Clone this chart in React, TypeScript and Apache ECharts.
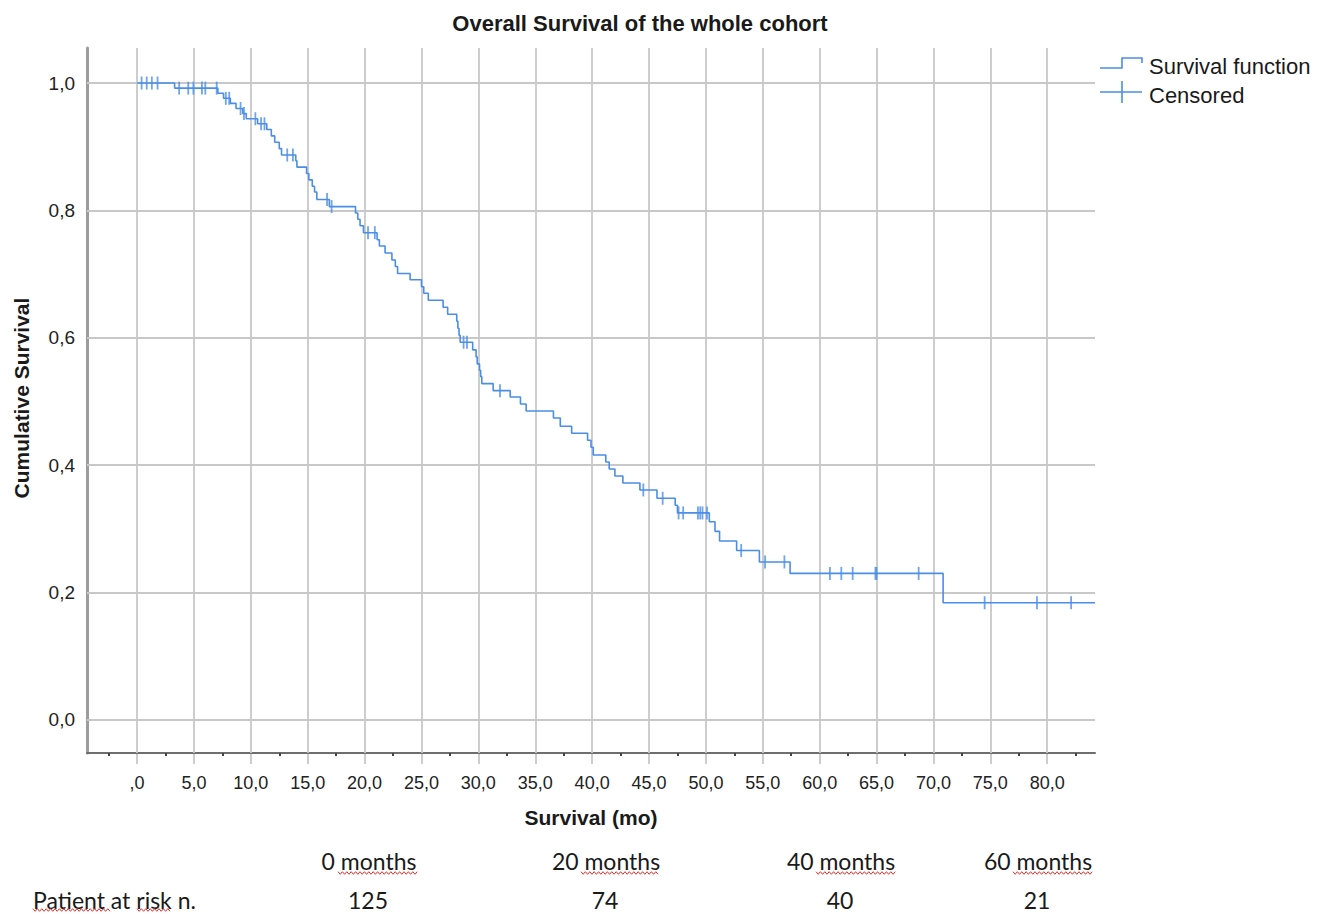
import React, { useEffect, useRef } from "react";
import * as echarts from "echarts";

// ---------- data ----------
const eventTimes = [
  3.3, 7.1, 7.6, 8.2, 8.7, 9.3, 9.6, 10.6, 11.4, 11.8, 12.1, 12.5, 12.7, 13.95, 14.05, 14.9, 15.1, 15.4, 15.6, 15.8,
  16.9, 19.2, 19.4, 19.6, 19.9, 21.1, 21.3, 21.8, 22.4, 22.7, 22.9, 24.0, 25.0, 25.2, 25.6, 26.9, 27.3, 28.1, 28.2,
  28.3, 28.4, 29.5, 29.8, 29.9, 30.1, 30.2, 30.3, 31.3, 32.8, 33.7, 34.2, 36.6, 37.2, 38.2, 39.6, 39.9, 40.1, 41.2,
  41.5, 42.0, 42.7, 44.2, 45.7, 47.3, 47.5, 50.3, 50.8, 51.2, 52.7, 54.7, 57.4, 70.85,
];
const survivalAfter = [
  0.992, 0.984, 0.976, 0.968, 0.96, 0.952, 0.944, 0.936, 0.927, 0.917, 0.907, 0.897, 0.887, 0.878, 0.868, 0.858,
  0.848, 0.838, 0.829, 0.817, 0.806, 0.796, 0.786, 0.776, 0.765, 0.754, 0.744, 0.733, 0.722, 0.712, 0.701, 0.691,
  0.68, 0.67, 0.659, 0.648, 0.637, 0.626, 0.615, 0.604, 0.593, 0.581, 0.57, 0.559, 0.549, 0.539, 0.528, 0.517,
  0.507, 0.496, 0.485, 0.474, 0.461, 0.45, 0.439, 0.428, 0.416, 0.405, 0.394, 0.383, 0.372, 0.361, 0.348, 0.337,
  0.325, 0.311, 0.296, 0.281, 0.266, 0.248, 0.23, 0.184,
];
const censorTimes = [
  0.4, 0.85, 1.3, 1.8, 3.7, 4.5, 4.95, 5.7, 6.0, 7.0, 7.8, 8.1, 9.1, 9.4, 10.4, 10.9, 11.2, 13.2, 13.7, 16.7, 17.1,
  20.3, 20.9, 28.7, 29.0, 31.9, 44.5, 46.2, 47.6, 48.0, 49.3, 49.5, 49.7, 50.1, 53.1, 55.2, 56.9, 60.9, 61.9, 62.9,
  64.9, 65.0, 68.7, 74.5, 79.1, 82.1,
];
const lastFollowUp = 84.2;

const xTicks = [0, 5, 10, 15, 20, 25, 30, 35, 40, 45, 50, 55, 60, 65, 70, 75, 80];
const xMinorTicks = [-2.5, 2.5, 7.5, 12.5, 17.5, 22.5, 27.5, 32.5, 37.5, 42.5, 47.5, 52.5, 57.5, 62.5, 67.5, 72.5, 77.5, 82.5];
const yTicks = [0, 0.2, 0.4, 0.6, 0.8, 1.0];

const riskMonths = ["0 months", "20 months", "40 months", "60 months"];
const riskCounts = ["125", "74", "40", "21"];

// ---------- style constants ----------
const X_MIN = -4.4;
const X_MAX = 84.2;
const Y_MIN = -0.052;
const Y_MAX = 1.055;
const BLUE = "#4a8ee6";
const GRID = "#c8c8c8";
const ARIAL = "'Liberation Sans', Arial, sans-serif";
const CAL = "Lato, 'Open Sans', sans-serif";

function survivalAt(t: number): number {
  let s = 1;
  for (let i = 0; i < eventTimes.length; i++) {
    if (eventTimes[i] <= t) s = survivalAfter[i];
  }
  return s;
}

function squiggle(x0: number, x1: number, y: number) {
  const pts: number[][] = [];
  let up = true;
  for (let x = x0; x <= x1; x += 2.2) {
    pts.push([x, up ? y - 1.3 : y + 1.3]);
    up = !up;
  }
  return {
    type: "polyline",
    shape: { points: pts },
    style: { stroke: "#e0302c", lineWidth: 1, fill: "none" },
    silent: true,
  };
}

const commaFmt = (v: number) => (v === 0 ? "0,0" : v.toFixed(1).replace(".", ","));
const xFmt = (v: number) => (Math.abs(v) < 1e-9 ? ",0" : v.toFixed(1).replace(".", ","));

export default function App() {
  const ref = useRef<HTMLDivElement>(null);

  useEffect(() => {
    if (!ref.current) return;
    const chart = echarts.init(ref.current, undefined, { renderer: "svg" });

    const kmData: number[][] = [[0, 1]];
    eventTimes.forEach((t, i) => kmData.push([t, survivalAfter[i]]));
    kmData.push([lastFollowUp, survivalAfter[survivalAfter.length - 1]]);

    const censorData = censorTimes.map((t) => [t, survivalAt(t)]);

    const monthCenters = [369, 606, 841, 1038];
    const monthWordStart = [338, 581, 816, 1013];
    const monthWordEnd = [418, 660, 896, 1093];

    const graphics: any[] = [
      {
        type: "text",
        x: 21,
        y: 398,
        rotation: Math.PI / 2,
        style: {
          text: "Cumulative Survival",
          font: `bold 21px ${ARIAL}`,
          fill: "#1a1a1a",
          textAlign: "center",
          textVerticalAlign: "middle",
        },
      },
      {
        type: "text",
        x: 591,
        y: 817,
        style: {
          text: "Survival (mo)",
          font: `bold 21px ${ARIAL}`,
          fill: "#1a1a1a",
          textAlign: "center",
          textVerticalAlign: "middle",
        },
      },
      {
        type: "polyline",
        shape: { points: [[1100, 68], [1122, 68], [1122, 58], [1142, 58], [1142, 63]] },
        style: { stroke: BLUE, lineWidth: 1.6, fill: "none" },
      },
      { type: "line", shape: { x1: 1100, y1: 92, x2: 1142, y2: 92 }, style: { stroke: BLUE, lineWidth: 1.6 } },
      { type: "line", shape: { x1: 1122, y1: 81, x2: 1122, y2: 103 }, style: { stroke: BLUE, lineWidth: 1.6 } },
      {
        type: "text",
        x: 1149,
        y: 66,
        style: { text: "Survival function", font: `22px ${ARIAL}`, fill: "#1a1a1a", textVerticalAlign: "middle" },
      },
      {
        type: "text",
        x: 1149,
        y: 95,
        style: { text: "Censored", font: `22px ${ARIAL}`, fill: "#1a1a1a", textVerticalAlign: "middle" },
      },
      {
        type: "text",
        x: 33,
        y: 900,
        style: { text: "Patient at risk n.", font: `23px ${CAL}`, fill: "#1a1a1a", textVerticalAlign: "middle" },
      },
      squiggle(33, 112, 910),
      squiggle(137, 172, 910),
    ];
    riskMonths.forEach((m, i) => {
      graphics.push({
        type: "text",
        x: monthCenters[i],
        y: 861,
        style: { text: m, font: `23px ${CAL}`, fill: "#1a1a1a", textAlign: "center", textVerticalAlign: "middle" },
      });
      graphics.push(squiggle(monthWordStart[i], monthWordEnd[i], 873));
    });
    riskCounts.forEach((c, i) => {
      graphics.push({
        type: "text",
        x: monthCenters[i] - 1,
        y: 900,
        style: { text: c, font: `23px ${CAL}`, fill: "#1a1a1a", textAlign: "center", textVerticalAlign: "middle" },
      });
    });

    const option: any = {
      animation: false,
      backgroundColor: "#ffffff",
      title: {
        text: "Overall Survival of the whole cohort",
        left: 635,
        top: 7,
        textAlign: "center",
        textStyle: { fontFamily: ARIAL, fontSize: 22, fontWeight: "bold", color: "#1a1a1a" },
      },
      grid: { left: 87, right: 231, top: 48, bottom: 161, containLabel: false },
      xAxis: [
        {
          type: "value",
          min: X_MIN,
          max: X_MAX,
          z: 3,
          axisLine: { show: true, onZero: false, lineStyle: { color: "#6e6e6e", width: 2 } },
          axisTick: { show: false },
          axisLabel: {
            show: true,
            customValues: xTicks,
            formatter: xFmt,
            margin: 21,
            fontSize: 18,
            fontFamily: ARIAL,
            color: "#222",
          },
          splitLine: { show: false },
        },
        {
          type: "value",
          min: X_MIN,
          max: X_MAX,
          position: "bottom",
          z: 2,
          axisLine: { show: false, onZero: false },
          axisTick: { show: true, customValues: xTicks, length: 11, lineStyle: { color: GRID, width: 1.8 } },
          axisLabel: { show: false },
          splitLine: { show: false },
        },
        {
          type: "value",
          min: X_MIN,
          max: X_MAX,
          position: "bottom",
          z: 4,
          axisLine: { show: false, onZero: false },
          axisTick: { show: true, customValues: xMinorTicks, length: 3, lineStyle: { color: "#444", width: 2 } },
          axisLabel: { show: false },
          splitLine: { show: false },
        },
      ],
      yAxis: {
        type: "value",
        min: Y_MIN,
        max: Y_MAX,
        z: 3,
        axisLine: { show: true, onZero: false, lineStyle: { color: "#9c9c9c", width: 3 } },
        axisTick: { show: false },
        axisLabel: {
          show: true,
          customValues: yTicks,
          formatter: commaFmt,
          margin: 12,
          fontSize: 19,
          fontFamily: ARIAL,
          color: "#222",
        },
        splitLine: { show: false },
      },
      series: [
        {
          name: "grid",
          type: "line",
          z: 1,
          data: [[X_MIN, Y_MIN]],
          showSymbol: false,
          lineStyle: { opacity: 0 },
          silent: true,
          markLine: {
            silent: true,
            symbol: ["none", "none"],
            label: { show: false },
            lineStyle: { color: GRID, width: 1.8, type: "solid" },
            data: [...xTicks.map((v) => ({ xAxis: v })), ...yTicks.map((v) => ({ yAxis: v }))],
          },
        },
        {
          name: "Survival function",
          type: "line",
          z: 5,
          step: "end",
          data: kmData,
          showSymbol: false,
          lineStyle: { color: BLUE, width: 1.6 },
        },
        {
          name: "Censored",
          type: "scatter",
          z: 6,
          data: censorData,
          symbol: "rect",
          symbolSize: [1.8, 13],
          itemStyle: { color: BLUE },
        },
      ],
      graphic: graphics,
    };

    chart.setOption(option);
    return () => chart.dispose();
  }, []);

  return (
    <div
      ref={ref}
      style={{ position: "absolute", left: 0, top: 0, width: 1326, height: 914, background: "#fff" }}
    />
  );
}
